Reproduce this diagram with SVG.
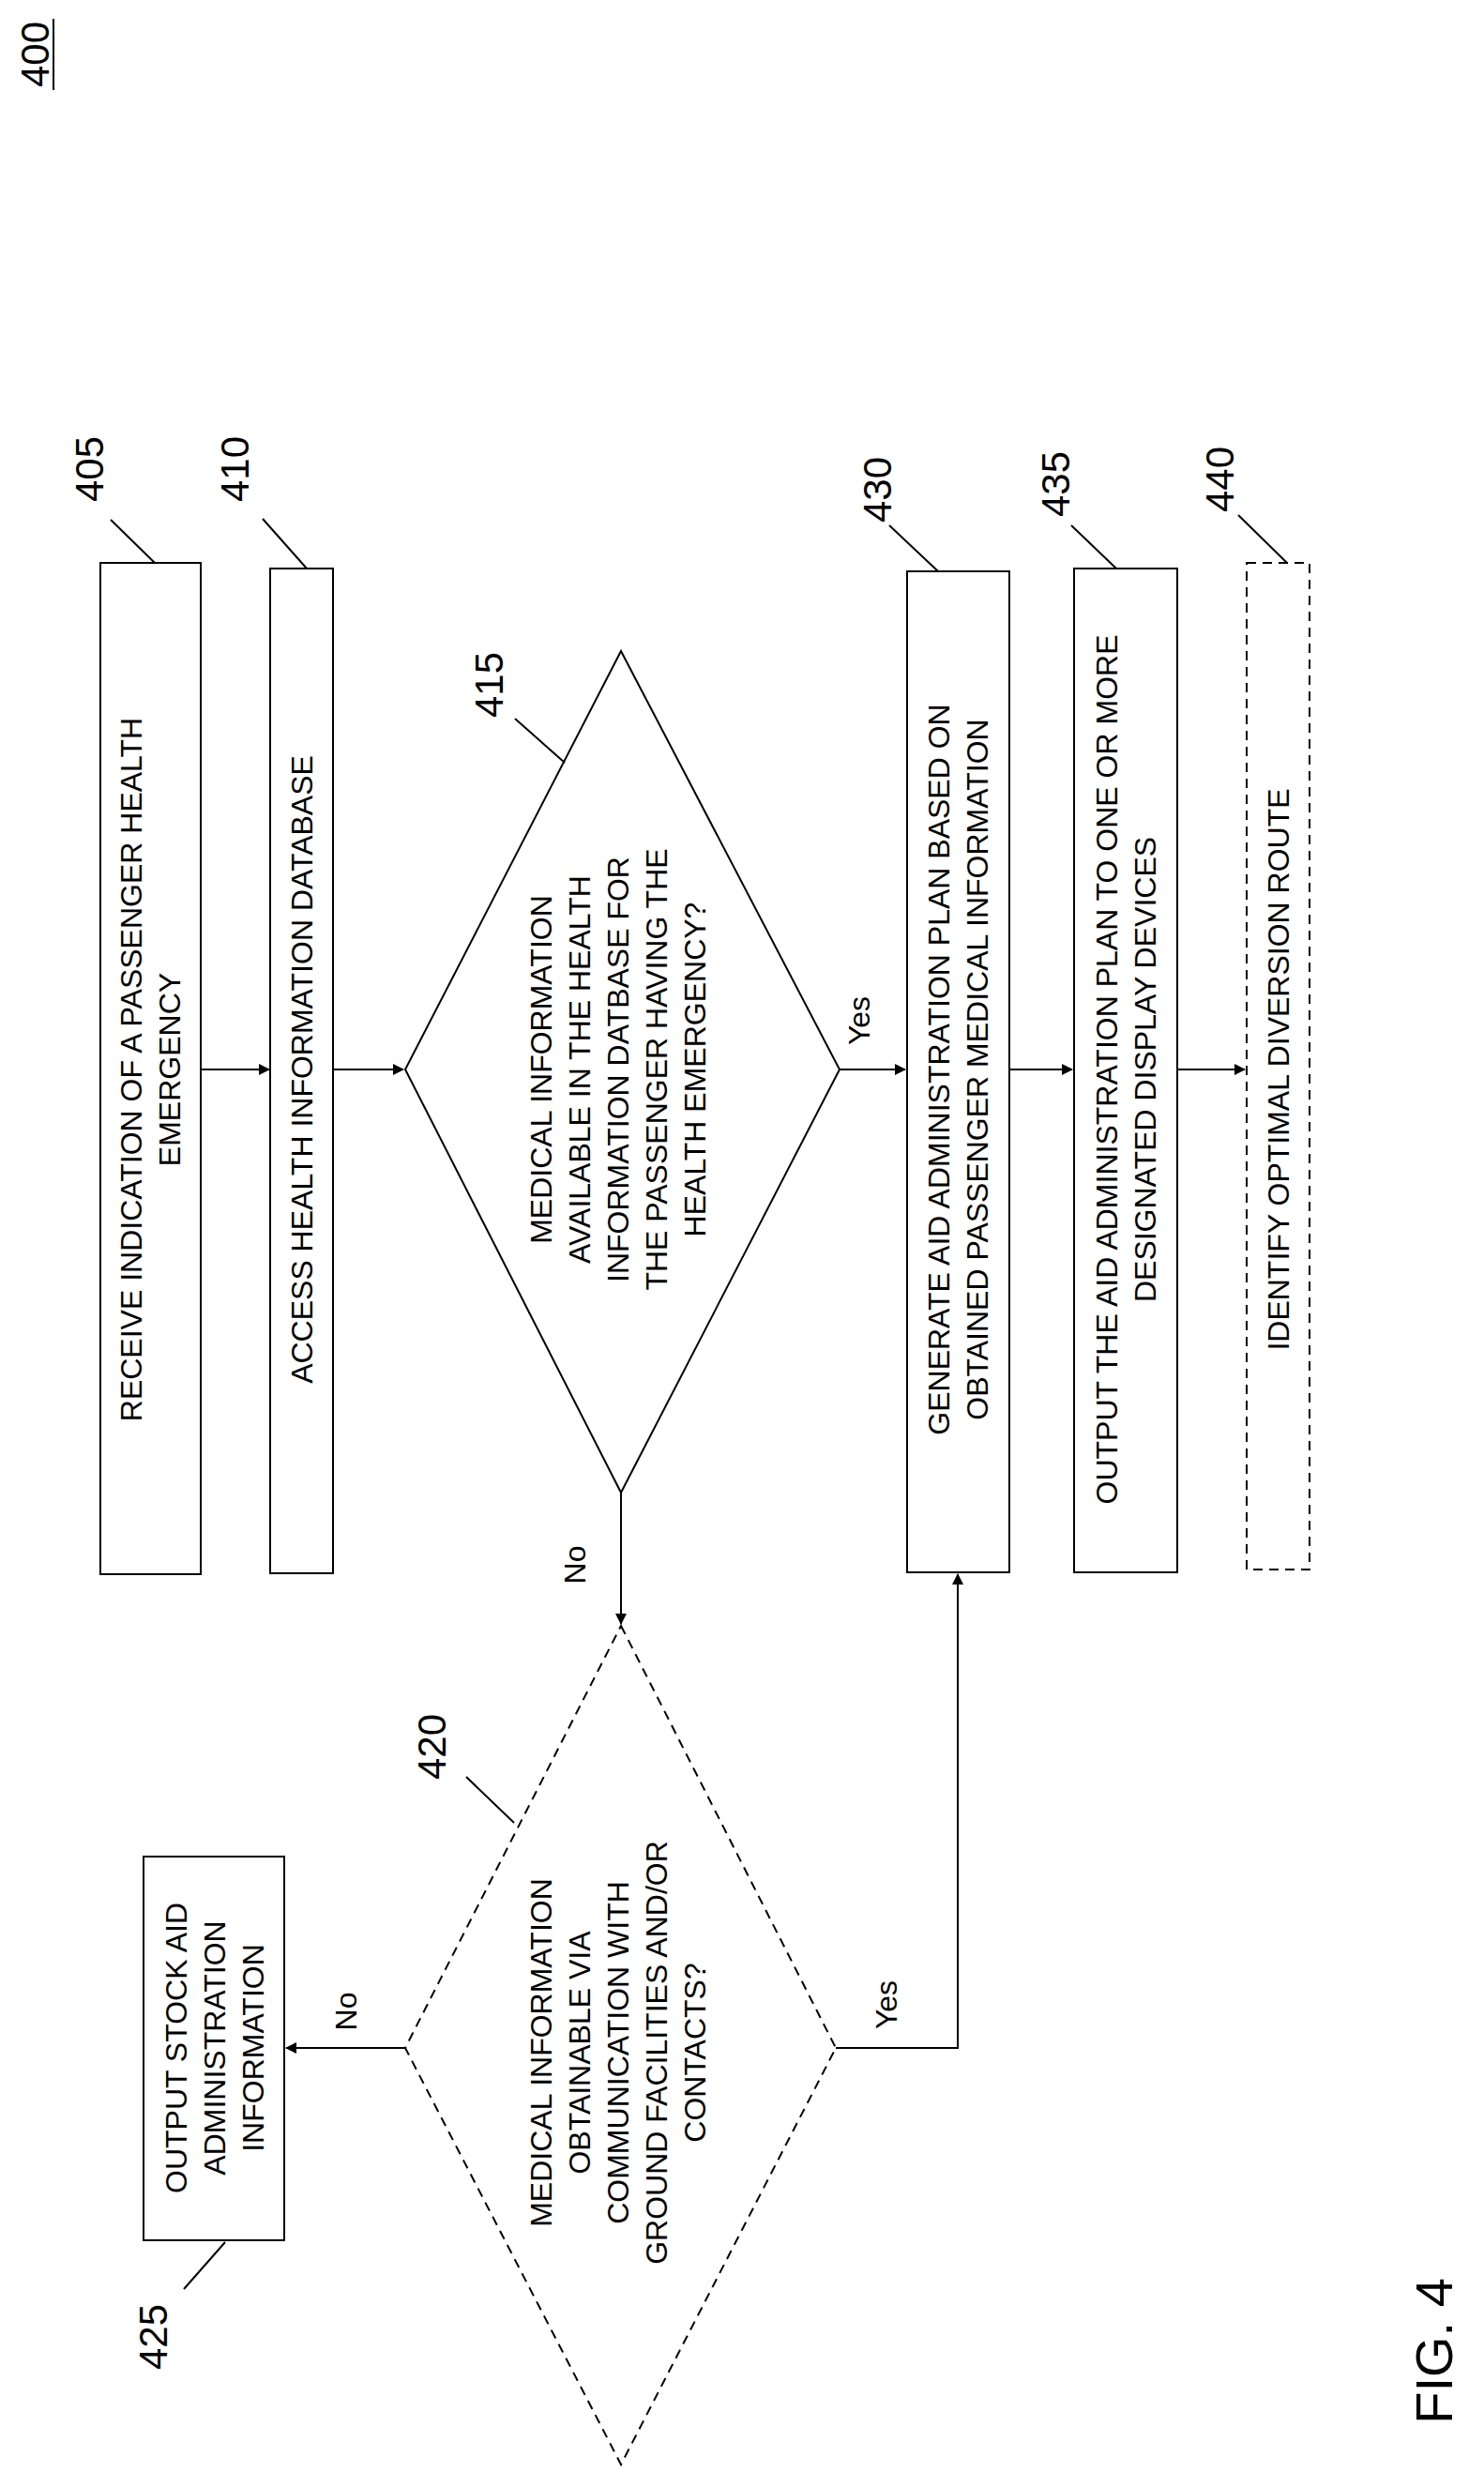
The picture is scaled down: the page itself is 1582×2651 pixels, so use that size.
<svg xmlns="http://www.w3.org/2000/svg" width="1582" height="2651" viewBox="0 0 1582 2651">
<style>
text{font-family:"Liberation Sans",Arial,sans-serif;fill:#000;text-anchor:middle}
.t{font-size:32px}
.n{font-size:42px}
.box{fill:#fff;stroke:#000;stroke-width:2}
.dash{stroke-dasharray:10 7}
.ln{fill:none;stroke:#000;stroke-width:2}
</style>
<defs>
<marker id="ah" markerWidth="12" markerHeight="12" refX="11" refY="6" orient="auto" markerUnits="userSpaceOnUse" viewBox="0 0 12 12">
<path d="M0,0 L12,6 L0,12 z" fill="#000"/>
</marker>
</defs>
<rect width="1582" height="2651" fill="#fff"/>
<g id="title">
<text class="n" transform="translate(52,58) rotate(-90)">400</text>
<line x1="57" y1="20" x2="57" y2="96" stroke="#000" stroke-width="2"/>
<text font-size="56" transform="translate(1548,2506) rotate(-90)">FIG. 4</text>
</g>
<g id="connectors">
<line class="ln" x1="214" y1="1140" x2="287" y2="1140" marker-end="url(#ah)"/>
<line class="ln" x1="355" y1="1140" x2="430" y2="1140" marker-end="url(#ah)"/>
<line class="ln" x1="895" y1="1140" x2="965" y2="1140" marker-end="url(#ah)"/>
<line class="ln" x1="1076" y1="1140" x2="1143" y2="1140" marker-end="url(#ah)"/>
<line class="ln" x1="1255" y1="1140" x2="1327" y2="1140" marker-end="url(#ah)"/>
<line class="ln" x1="662" y1="1591" x2="662" y2="1731" marker-end="url(#ah)"/>
<line class="ln" x1="432" y1="2183" x2="305" y2="2183" marker-end="url(#ah)"/>
<polyline class="ln" points="891,2183 1021,2183 1021,1678" marker-end="url(#ah)"/>
<text class="t" transform="translate(927,1088) rotate(-90)">Yes</text>
<text class="t" transform="translate(624,1668) rotate(-90)">No</text>
<text class="t" transform="translate(380,2144) rotate(-90)">No</text>
<text class="t" transform="translate(956,2137) rotate(-90)">Yes</text>
</g>
<g id="n405">
<rect class="box" x="107" y="600" width="107" height="1078"/>
<g transform="translate(160,1140) rotate(-90)"><text class="t" x="0" y="-9">RECEIVE INDICATION OF A PASSENGER HEALTH</text><text class="t" x="0" y="32">EMERGENCY</text></g>
<text class="n" transform="translate(110,500) rotate(-90)">405</text>
<line class="ln" x1="118" y1="554" x2="165" y2="600"/>
</g>
<g id="n410">
<rect class="box" x="288" y="606" width="67" height="1071"/>
<text class="t" transform="translate(333,1140) rotate(-90)">ACCESS HEALTH INFORMATION DATABASE</text>
<text class="n" transform="translate(265,500) rotate(-90)">410</text>
<line class="ln" x1="280" y1="553" x2="327" y2="606"/>
</g>
<g id="n415">
<polygon class="box" points="662,694 895,1140 662,1591 432,1140"/>
<g transform="translate(658,1140) rotate(-90)">
<text class="t" x="0" y="-70">MEDICAL INFORMATION</text>
<text class="t" x="0" y="-29">AVAILABLE IN THE HEALTH</text>
<text class="t" x="0" y="12">INFORMATION DATBASE FOR</text>
<text class="t" x="0" y="53">THE PASSENGER HAVING THE</text>
<text class="t" x="0" y="94">HEALTH EMERGENCY?</text>
</g>
<text class="n" transform="translate(536,730) rotate(-90)">415</text>
<line class="ln" x1="549" y1="766" x2="602" y2="813"/>
</g>
<g id="n420">
<polygon class="box dash" points="662,1733 891,2183 662,2627 432,2183"/>
<g transform="translate(658,2188) rotate(-90)">
<text class="t" x="0" y="-70">MEDICAL INFORMATION</text>
<text class="t" x="0" y="-29">OBTAINABLE VIA</text>
<text class="t" x="0" y="12">COMMUNICATION WITH</text>
<text class="t" x="0" y="53">GROUND FACILITIES AND/OR</text>
<text class="t" x="0" y="94">CONTACTS?</text>
</g>
<text class="n" transform="translate(475,1862) rotate(-90)">420</text>
<line class="ln" x1="497" y1="1894" x2="548" y2="1943"/>
</g>
<g id="n425">
<rect class="box" x="153" y="1979" width="150" height="409"/>
<g transform="translate(228,2183) rotate(-90)">
<text class="t" x="0" y="-29">OUTPUT STOCK AID</text>
<text class="t" x="0" y="12">ADMINISTRATION</text>
<text class="t" x="0" y="53">INFORMATION</text>
</g>
<text class="n" transform="translate(178,2491) rotate(-90)">425</text>
<line class="ln" x1="196" y1="2440" x2="240" y2="2390"/>
</g>
<g id="n430">
<rect class="box" x="967" y="609" width="109" height="1067"/>
<g transform="translate(1021,1140) rotate(-90)"><text class="t" x="0" y="-9">GENERATE AID ADMINISTRATION PLAN BASED ON</text><text class="t" x="0" y="32">OBTAINED PASSENGER MEDICAL INFORMATION</text></g>
<text class="n" transform="translate(950,522) rotate(-90)">430</text>
<line class="ln" x1="948" y1="560" x2="1000" y2="609"/>
</g>
<g id="n435">
<rect class="box" x="1145" y="606" width="110" height="1070"/>
<g transform="translate(1200,1140) rotate(-90)"><text class="t" x="0" y="-9">OUTPUT THE AID ADMINISTRATION PLAN TO ONE OR MORE</text><text class="t" x="0" y="32">DESIGNATED DISPLAY DEVICES</text></g>
<text class="n" transform="translate(1140,516) rotate(-90)">435</text>
<line class="ln" x1="1142" y1="560" x2="1190" y2="606"/>
</g>
<g id="n440">
<rect class="box dash" x="1329" y="600" width="67" height="1073"/>
<text class="t" transform="translate(1374,1140) rotate(-90)">IDENTIFY OPTIMAL DIVERSION ROUTE</text>
<text class="n" transform="translate(1315,511) rotate(-90)">440</text>
<line class="ln" x1="1320" y1="549" x2="1372" y2="600"/>
</g>
</svg>
